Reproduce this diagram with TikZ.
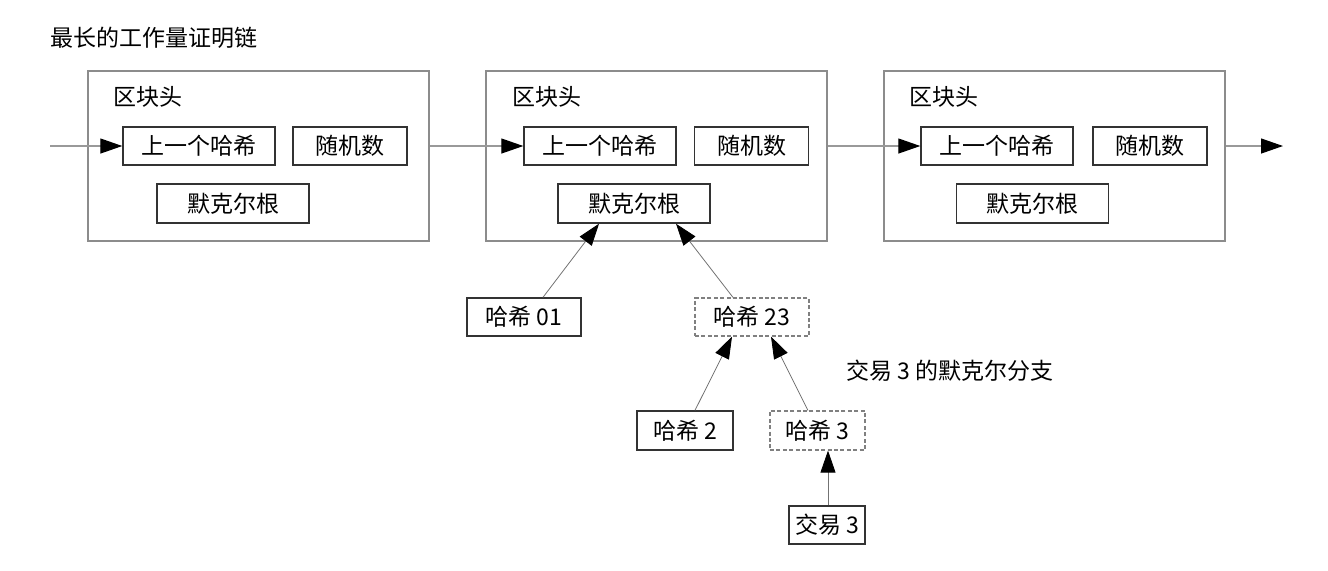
\documentclass[tikz,border=0pt]{standalone}
\usepackage{fontspec}
\setmainfont{Noto Sans CJK SC}
\usetikzlibrary{arrows.meta,calc}
\begin{document}
\begin{tikzpicture}[x=0.5pt,y=-0.5pt,
  txt/.style={font=\fontsize{11.5pt}{13pt}\selectfont, inner sep=0pt},
  outerbox/.style={draw=black!45, line width=0.7pt, minimum width=170.5pt, minimum height=85pt, inner sep=0pt},
  ibox/.style={txt, draw=black!80, line width=0.7pt, minimum height=19pt},
  dbox/.style={txt, draw=black!50, line width=0.6pt, dash pattern=on 2pt off 1.2pt, minimum height=19pt},
  link/.style={draw=black!40, line width=0.6pt, -{Triangle[length=11pt,width=7.5pt,color=black]}},
  uplink/.style={draw=black!55, line width=0.4pt, -{Triangle[length=11pt,width=7.5pt,color=black]}}]
\useasboundingbox (0,0) rectangle (1328,570);

\node[txt, anchor=west] (title) at (50,38) {最长的工作量证明链};

% blocks
\node[outerbox] (b1) at (258.5,156) {};
\node[outerbox] (b2) at (656.5,156) {};
\node[outerbox] (b3) at (1054.5,156) {};

\node[txt, anchor=west] (l1) at (113,97) {区块头};
\node[txt, anchor=west] (l2) at (512,97) {区块头};
\node[txt, anchor=west] (l3) at (909,97) {区块头};

\node[ibox, minimum width=76pt] (p1) at (199,146) {上一个哈希};
\node[ibox, minimum width=57pt] (n1) at (350,146) {随机数};
\node[ibox, minimum width=76pt, minimum height=19.5pt] (m1) at (233,203.5) {默克尔根};

\node[ibox, minimum width=76pt] (p2) at (600,146) {上一个哈希};
\node[ibox, minimum width=57pt] (n2) at (751.5,146) {随机数};
\node[ibox, minimum width=76pt, minimum height=19.5pt] (m2) at (634,203.5) {默克尔根};

\node[ibox, minimum width=76pt] (p3) at (997,146) {上一个哈希};
\node[ibox, minimum width=57pt] (n3) at (1150,146) {随机数};
\node[ibox, minimum width=76pt, minimum height=19.5pt] (m3) at (1032.5,203.5) {默克尔根};

% chain links
\coordinate (in) at (50,146);
\coordinate (out) at (1283,146);
\draw[link] (in) -- (p1.west);
\draw[link] (b1.east |- p1.east) -- (p2.west);
\draw[link] (b2.east |- p2.east) -- (p3.west);
\draw[link] (b3.east |- p3.east) -- (out);

% merkle branch
\node[ibox, minimum width=57pt] (h01) at (524,317) {哈希 01};
\node[dbox, minimum width=57pt] (h23) at (752,317) {哈希 23};
\node[ibox, minimum width=48pt, minimum height=19.5pt] (h2) at (685,430.5) {哈希 2};
\node[dbox, minimum width=47.5pt, minimum height=19.5pt] (h3) at (817.5,430.5) {哈希 3};
\node[ibox, minimum width=38pt] (tx3) at (827,525) {交易 3};

\node[txt, anchor=west] (branch) at (846,371) {交易 3 的默克尔分支};

\draw[uplink] ($(h01.north)+(19,0)$) -- ($(m2.south)+(-35,0)$);
\draw[uplink] ($(h23.north)+(-19,0)$) -- ($(m2.south)+(42,0)$);
\draw[uplink] ($(h2.north)+(10,0)$) -- ($(h23.south)+(-20,0)$);
\draw[uplink] ($(h3.north)+(-9.5,0)$) -- ($(h23.south)+(19,0)$);
\draw[uplink] ($(tx3.north)+(1,0)$) -- ($(h3.south)+(10.5,0)$);
\end{tikzpicture}
\end{document}
